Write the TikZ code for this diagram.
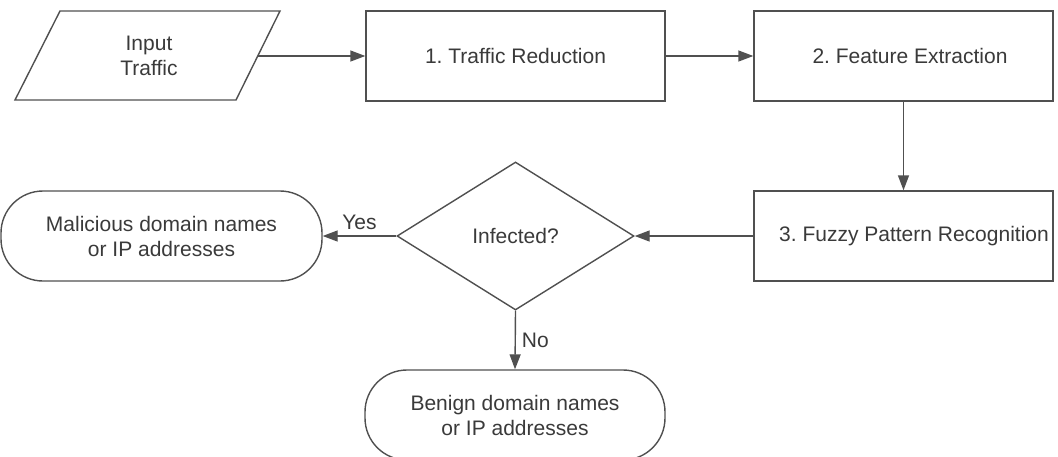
\documentclass[tikz,border=0pt]{standalone}
\usepackage{fontspec}
\setmainfont{Liberation Sans}
\frenchspacing
\usetikzlibrary{arrows.meta,shapes.geometric}
\definecolor{linec}{HTML}{505050}
\definecolor{textc}{HTML}{3A3A3A}
\tikzset{
  base/.style={draw=linec, line width=1.4pt, text=textc, font=\fontsize{21pt}{25pt}\selectfont, align=center, inner sep=0pt},
  procbox/.style={base, rectangle, minimum width=299pt, minimum height=90pt},
  termbox/.style={base, rectangle, rounded corners=42pt, minimum width=300pt, minimum height=90pt},
  decision/.style={base, diamond, aspect=1.6, minimum width=237pt, minimum height=148pt},
  plain/.style={text=textc, font=\fontsize{21pt}{25pt}\selectfont\frenchspacing, align=center, inner sep=0pt},
  conn/.style={draw=linec, line width=1.4pt, -{Triangle[length=15pt,width=11pt]}},
}
\begin{document}
\begin{tikzpicture}[x=1pt,y=-1pt]
\clip (0,0) rectangle (1058,456);
\fill[white] (0,0) rectangle (1058,456);
% input parallelogram
\draw[draw=linec, line width=1.4pt] (60,11) -- (280,11) -- (236,100) -- (15,100) -- cycle;
\node[plain] (in) at (149,56) {Input\\Traffic};
\coordinate (inR) at (258,56);
% process boxes
\node[procbox] (b1) at (515.5,56) {1. Traffic Reduction};
\node[procbox] (b2) at (903.5,56) {};
\node[plain] (t2) at (910,56) {2. Feature Extraction};
\node[procbox] (b3) at (903.5,236) {};
\node[plain] (t3) at (914,236) {3. Fuzzy Pattern Recognition};
% decision
\node[decision] (dia) at (515.5,236) {Infected?};
% terminals
\node[termbox, minimum width=321pt] (mal) at (161.5,236) {Malicious domain names\\or IP addresses};
\node[termbox] (ben) at (515,415) {Benign domain names\\or IP addresses};
% connectors
\draw[conn] (inR) -- (b1.west);
\draw[conn] (b1.east) -- (b2.west);
\draw[conn] (b2.south) -- (b3.north);
\draw[conn] (b3.west) -- (dia.east);
\draw[conn] (dia.west) -- node[plain, above=6pt, pos=0.5] (yes) {Yes} (mal.east);
\draw[conn] (dia.south) -- node[plain, right=6pt, pos=0.5] (no) {No} (ben.north);
\end{tikzpicture}
\end{document}
